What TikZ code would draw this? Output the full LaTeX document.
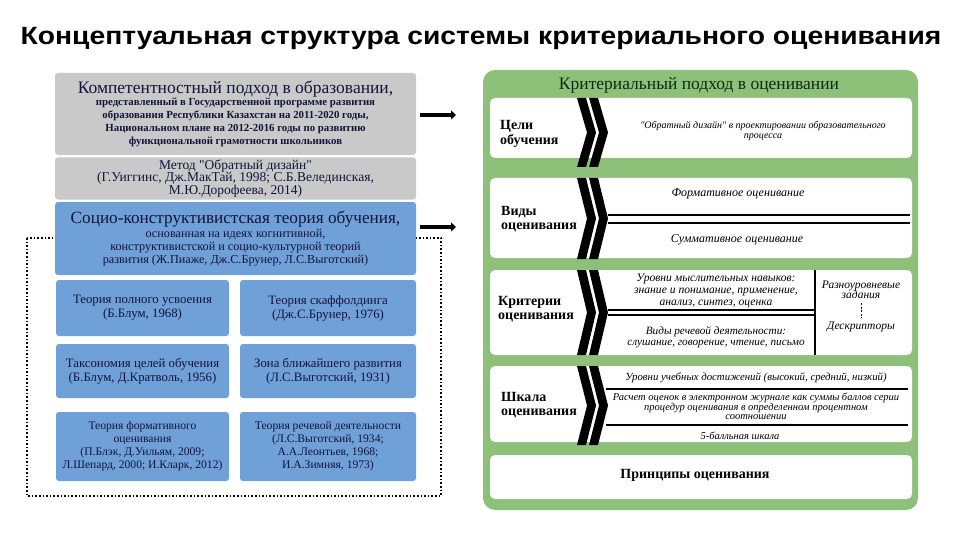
\documentclass[tikz,border=0pt]{standalone}
\usepackage{fontspec}
\setmainfont{Liberation Serif}
\newfontfamily\titlefont[FakeStretch=1.13]{Liberation Sans}
\usetikzlibrary{arrows.meta}
\definecolor{boxgray}{HTML}{C9C9C9}
\definecolor{boxblue}{HTML}{6FA0D8}
\definecolor{panelgreen}{HTML}{8DC17A}
\definecolor{inkblue}{HTML}{14143A}
\definecolor{headink}{HTML}{0F2A10}
\newcommand{\chevpair}[2]{%
  \foreach \cx in {577,589} {%
    \fill[black] (\cx,#1) -- (\cx+9,#1) -- (\cx+19,{(#1+#2)/2}) -- (\cx+9,#2) -- (\cx,#2) -- (\cx+10,{(#1+#2)/2}) -- cycle;
  }%
}
\newcommand{\sq}{\textquotedbl}
\begin{document}
\begin{tikzpicture}[x=1pt,y=-1pt,
  lbox/.style={rounded corners=3pt, inner sep=2pt, align=center, text=inkblue},
  graybox/.style={lbox, fill=boxgray},
  bluebox/.style={lbox, fill=boxblue, font=\fontsize{12.8}{14}\selectfont},
  rowbox/.style={fill=white, rounded corners=5pt, inner sep=0pt},
  arr/.style={line width=3.6pt, -{Triangle[length=5pt,width=9pt]}},
  lab/.style={font=\fontsize{14}{14.5}\selectfont\bfseries, align=left, anchor=west, inner sep=0pt},
  itx/.style={font=\fontsize{10}{10.5}\selectfont\itshape, align=center, inner sep=0pt},
  sepline/.style={line width=1.3pt},
  dotframe/.style={dotted, line width=1.6pt}
]
\useasboundingbox (0,0) rectangle (960,540);
\fill[white] (0,0) rectangle (960,540);

% title
\node[font={\titlefont\fontsize{25}{27}\selectfont\bfseries}, inner sep=0pt] (title) at (481,38)
  {Концептуальная структура системы критериального оценивания};

% dotted frame (behind boxes)
\draw[dotframe] (27,238) rectangle (441,496);

% left column
\node[graybox, minimum width=361pt, minimum height=82pt, font=\fontsize{10.8}{12.8}\selectfont\bfseries] (g1) at (235.5,114)
  {{\fontsize{17.5}{19}\selectfont\mdseries Компетентностный подход в образовании,}\\[-1pt]
   представленный в Государственной программе развития\\
   образования Республики Казахстан на 2011-2020 годы,\\
   Национальном плане на 2012-2016 годы по развитию\\
   функциональной грамотности школьников};
\node[graybox, minimum width=361pt, minimum height=41pt, font=\fontsize{13.5}{12.8}\selectfont] (g2) at (235.5,178.5)
  {Метод \sq Обратный дизайн\sq\\
   (Г.Уиггинс, Дж.МакТай, 1998; С.Б.Велединская,\\
   М.Ю.Дорофеева, 2014)};
\node[bluebox, minimum width=361pt, minimum height=73pt, font=\fontsize{12.2}{13}\selectfont] (b0) at (235.5,238.5)
  {{\fontsize{17.2}{19}\selectfont Социо-конструктивистская теория обучения,}\\[1pt]
   основанная на идеях когнитивной,\\
   конструктивистской и социо-культурной теорий\\
   развития (Ж.Пиаже, Дж.С.Брунер, Л.С.Выготский)};

\node[bluebox, minimum width=173pt, minimum height=56pt] (b1) at (142.5,308)
  {Теория полного усвоения\\(Б.Блум, 1968)};
\node[bluebox, minimum width=176pt, minimum height=56pt] (b2) at (328,308)
  {Теория скаффолдинга\\(Дж.С.Брунер, 1976)};
\node[bluebox, minimum width=173pt, minimum height=54pt] (b3) at (142.5,371)
  {Таксономия целей обучения\\(Б.Блум, Д.Кратволь, 1956)};
\node[bluebox, minimum width=176pt, minimum height=54pt] (b4) at (328,371)
  {Зона ближайшего развития\\(Л.С.Выготский, 1931)};
\node[bluebox, minimum width=173pt, minimum height=69pt, font=\fontsize{11.6}{13}\selectfont] (b5) at (142.5,446.5)
  {Теория формативного\\оценивания\\(П.Блэк, Д.Уильям, 2009;\\Л.Шепард, 2000; И.Кларк, 2012)};
\node[bluebox, minimum width=176pt, minimum height=69pt, font=\fontsize{11.6}{13}\selectfont] (b6) at (328,446.5)
  {Теория речевой деятельности\\(Л.С.Выготский, 1934;\\А.А.Леонтьев, 1968;\\И.А.Зимняя, 1973)};

% arrows
\coordinate (a1end) at (456,115);
\coordinate (a2end) at (456,227);
\draw[arr] ([xshift=4pt]g1.east |- a1end) -- (a1end);
\draw[arr] ([xshift=4pt]b0.east |- a2end) -- (a2end);

% right panel
\node[fill=panelgreen, rounded corners=12pt, minimum width=435pt, minimum height=440pt, inner sep=0pt] (panel) at (700.5,290) {};
\node[font=\fontsize{17.5}{18}\selectfont, text=headink, inner sep=0pt] (head) at (699,85) {Критериальный подход в оценивании};

\node[rowbox, minimum width=422pt, minimum height=60pt] (r1) at (701,128) {};
\node[rowbox, minimum width=422pt, minimum height=80pt] (r2) at (701,218) {};
\node[rowbox, minimum width=422pt, minimum height=85pt] (r3) at (701,312.5) {};
\node[rowbox, minimum width=422pt, minimum height=76pt] (r4) at (701,404) {};
\node[rowbox, minimum width=422pt, minimum height=44pt] (r5) at (701,477) {};

\chevpair{98}{167}
\chevpair{178}{259}
\chevpair{270}{355}
\chevpair{366}{445}

% labels
\node[lab] (l1) at (500,134) {Цели\\обучения};
\node[lab] (l2) at (501,219) {Виды\\оценивания};
\node[lab] (l3) at (498,309) {Критерии\\оценивания};
\node[lab] (l4) at (501,405) {Шкала\\оценивания};
\node[font=\fontsize{14}{15}\selectfont\bfseries, inner sep=0pt] (l5) at (695,475) {Принципы оценивания};

% row 1
\node[itx, font=\fontsize{10}{9.5}\selectfont\itshape] (t1) at (763,131)
  {\sq Обратный дизайн\sq{} в проектировании образовательного\\процесса};

% row 2
\node[itx, font=\fontsize{12}{12}\selectfont\itshape] (t2a) at (738,194) {Формативное оценивание};
\node[itx, font=\fontsize{12}{12}\selectfont\itshape] (t2b) at (737,240) {Суммативное оценивание};
\draw[sepline] (608,215) -- (910,215);
\draw[sepline] (608,223) -- (910,223);

% row 3
\node[itx, font=\fontsize{11.6}{12}\selectfont\itshape] (t3a) at (716,291)
  {Уровни мыслительных навыков:\\знание и понимание, применение,\\анализ, синтез, оценка};
\node[itx, font=\fontsize{11.2}{11.5}\selectfont\itshape] (t3b) at (716,337)
  {Виды речевой деятельности:\\слушание, говорение, чтение, письмо};
\draw[sepline] (608,310) -- (815,310);
\draw[sepline] (608,315) -- (815,315);
\draw[line width=1.3pt] (815,270) -- (815,355);
\node[itx, font=\fontsize{11.5}{10.5}\selectfont\itshape] (t3c) at (861,290) {Разноуровневые\\задания};
\node[itx, font=\fontsize{11.5}{10.5}\selectfont\itshape] (t3d) at (861,327) {Дескрипторы};
\draw[line width=0.6pt, dash pattern=on 2pt off 1.5pt] ([yshift=-4pt]t3c.south) -- ([yshift=4pt]t3d.north);

% row 4
\node[itx, font=\fontsize{10.8}{9}\selectfont\itshape] (t4a) at (756,378)
  {Уровни учебных достижений (высокий, средний, низкий)};
\node[itx, font=\fontsize{10.5}{8.8}\selectfont\itshape] (t4b) at (756,406)
  {Расчет оценок в электронном журнале как суммы баллов серии\\процедур оценивания в определенном процентном\\соотношении};
\node[itx, font=\fontsize{10.5}{9}\selectfont\itshape] (t4c) at (740,436) {5-балльная шкала};
\draw[sepline] (606,389) -- (908,389);
\draw[sepline] (606,425) -- (908,425);
\end{tikzpicture}
\end{document}
